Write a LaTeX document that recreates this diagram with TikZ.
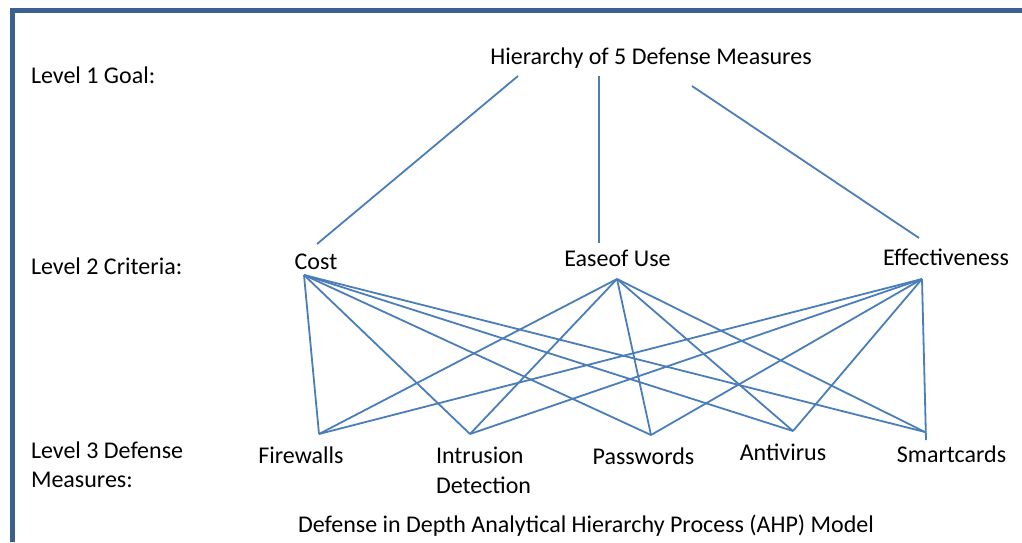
\documentclass[tikz,border=0pt]{standalone}
\usepackage{fontspec}
\setmainfont{Carlito}
\definecolor{frameblue}{HTML}{3B5F8E}
\definecolor{linkblue}{HTML}{4A7EBB}
\begin{document}
\begin{tikzpicture}[x=1pt,y=-1pt,
  lbl/.style={font=\fontsize{24}{29.5}\selectfont, inner sep=0pt, outer sep=0pt},
  link/.style={draw=linkblue, line width=1.8pt}]
\useasboundingbox (0,0) rectangle (1022,542);
\fill[white] (0,0) rectangle (1022,542);

% frame along the top and left edges
\fill[frameblue] (10,7.5) rectangle (1022,12.5);
\fill[frameblue] (10,7.5) rectangle (15,542);

% level captions
\node[lbl, anchor=base west] (lv1) at (31,83) {Level 1 Goal:};
\node[lbl, anchor=base west] (lv2) at (31,274) {Level 2 Criteria:};
\node[lbl, anchor=base west] (lv3a) at (31,458) {Level 3 Defense};
\node[lbl, anchor=base west] (lv3b) at (31,487.5) {Measures:};

% goal
\node[lbl, anchor=base] (goal) at (651,64) {Hierarchy of 5 Defense Measures};

% criteria
\node[lbl, anchor=base] (cost) at (316,269) {Cost};
\node[lbl, anchor=base] (ease) at (617.5,266) {Easeof Use};
\node[lbl, anchor=base] (eff) at (946,265) {Effectiveness};

% defense measures
\node[lbl, anchor=base] (fw) at (301,463) {Firewalls};
\node[lbl, anchor=base west] (ids1) at (436,463) {Intrusion};
\node[lbl, anchor=base west] (ids2) at (436,493) {Detection};
\node[lbl, anchor=base] (pw) at (643.5,464) {Passwords};
\node[lbl, anchor=base] (av) at (783,460) {Antivirus};
\node[lbl, anchor=base] (sc) at (951.5,462) {Smartcards};

% title
\node[lbl, anchor=base] (title) at (586,532.5) {Defense in Depth Analytical Hierarchy Process (AHP) Model};

% connector ends
\coordinate (gL) at (518,76);
\coordinate (gM) at (599,76);
\coordinate (gR) at (692,86);
\coordinate (costT) at (317,244);
\coordinate (easeT) at (599,243);
\coordinate (effT) at (919,238);
\coordinate (costB) at (304,275);
\coordinate (easeB) at (617,279);
\coordinate (effB) at (922,279);
\coordinate (fwT) at (319,434);
\coordinate (idsT) at (470,434);
\coordinate (pwT) at (651,435);
\coordinate (avT) at (793,431);
\coordinate (scT) at (925,432);
\coordinate (scV) at (926,440);

% goal to criteria
\draw[link] (gL) -- (costT);
\draw[link] (gM) -- (easeT);
\draw[link] (gR) -- (effT);

% criteria to measures
\foreach \m in {fwT,idsT,pwT,avT,scT}{
  \draw[link] (costB) -- (\m);
  \draw[link] (easeB) -- (\m);
}
\foreach \m in {fwT,idsT,pwT,avT}{
  \draw[link] (effB) -- (\m);
}
\draw[link] (effB) -- (scV);
\end{tikzpicture}
\end{document}
